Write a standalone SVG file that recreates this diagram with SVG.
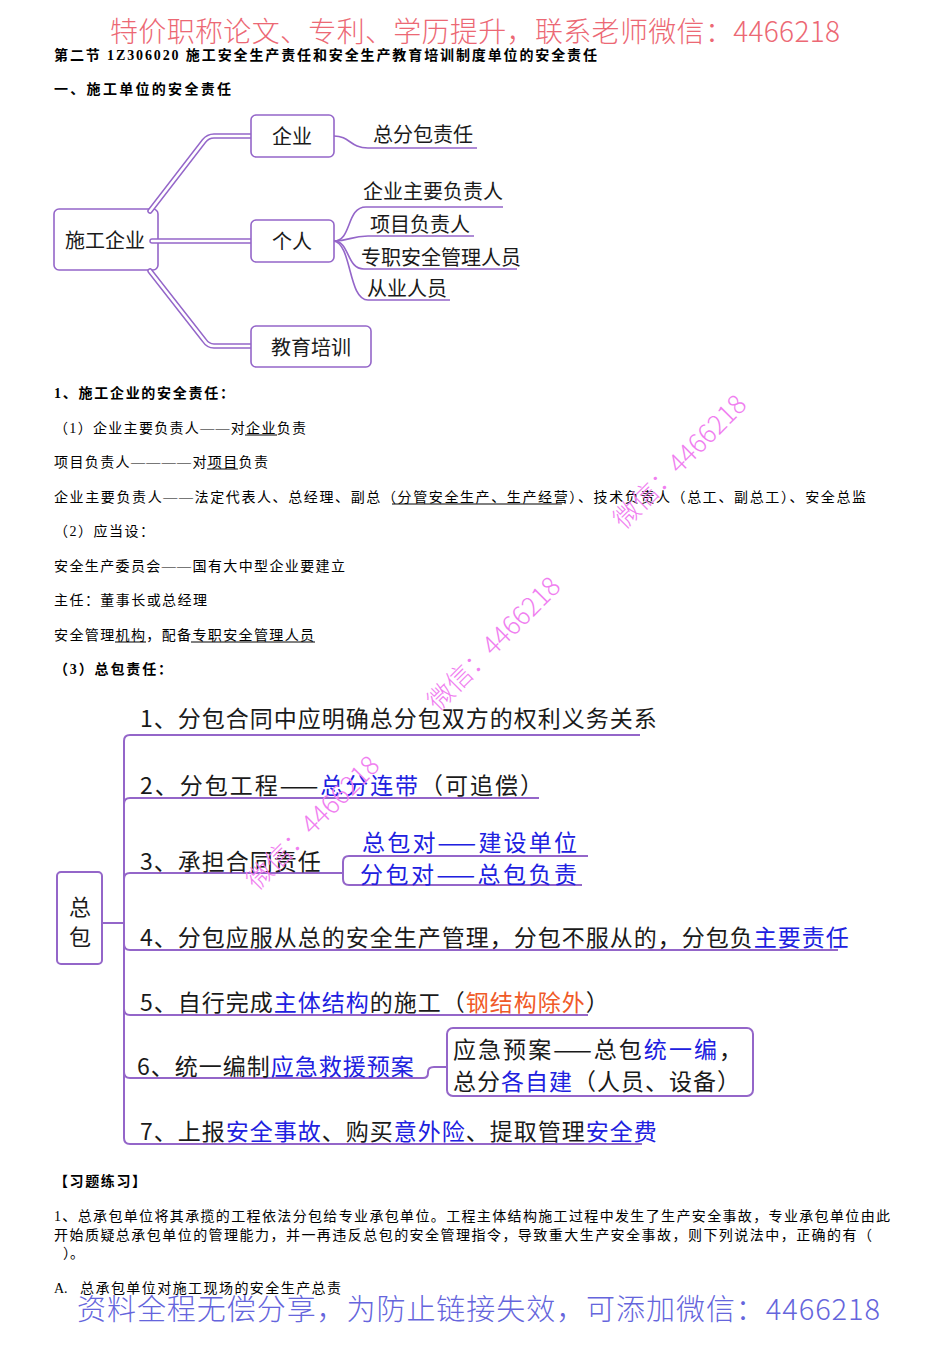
<svg xmlns="http://www.w3.org/2000/svg" width="950" height="1345" viewBox="0 0 950 1345">
<style>
text{dominant-baseline:central}
.wmt{font-family:"Noto Sans CJK SC",sans-serif;font-size:28px;fill:#ec6874;font-weight:300}
.wmb{font-family:"Noto Sans CJK SC",sans-serif;font-size:29px;fill:#6565dc;font-weight:300}
.wm{font-family:"Noto Sans CJK SC",sans-serif;font-size:26px;fill:#f07ef0;font-weight:300}
.b{font-family:"Liberation Serif","Noto Sans CJK SC",serif;font-size:14px;fill:#000}
.bb{font-family:"Liberation Serif","Noto Sans CJK SC",serif;font-size:14px;fill:#000;font-weight:bold}
.m20{font-family:"Noto Sans CJK SC","Noto Sans",sans-serif;font-size:20px;fill:#1a1a1a}
.m23{font-family:"Noto Sans CJK SC","Noto Sans",sans-serif;font-size:23px;fill:#1a1a1a;letter-spacing:1px}
.blue{fill:#2020e0}
.orange{fill:#f05a28}
.box{fill:#fff;stroke:#9466c9;stroke-width:1.6}
.ln{fill:none;stroke:#9466c9;stroke-width:1.6}
.ln2{fill:none;stroke:#9466c9;stroke-width:2}
.to{fill:none;stroke:#9466c9;stroke-width:5.5;stroke-linecap:round;stroke-linejoin:round}
.ti{fill:none;stroke:#fff;stroke-width:2.6;stroke-linecap:round;stroke-linejoin:round}
.ul{stroke:#000;stroke-width:1}
</style>
<rect x="0" y="0" width="950" height="1345" fill="#fff"/>

<!-- header -->
<text class="wmt" x="110" y="30" textLength="730" lengthAdjust="spacing">特价职称论文、专利、学历提升，联系老师微信：4466218</text>
<text class="bb" x="54" y="55" textLength="543" lengthAdjust="spacing">第二节 1Z306020 施工安全生产责任和安全生产教育培训制度单位的安全责任</text>
<text class="bb" x="54" y="89" textLength="177" lengthAdjust="spacing">一、施工单位的安全责任</text>

<!-- mind map 1 -->
<g id="node-sgqy">
<rect class="box" x="54" y="209" width="104" height="61" rx="5"/>
<text class="m20" x="105" y="239" text-anchor="middle">施工企业</text>
</g>
<g id="connectors-1">
<path class="to" d="M150,211 L204,141 Q208,136 214,136 H251"/>
<path class="ti" d="M150,211 L204,141 Q208,136 214,136 H251"/>
<path class="to" d="M152,241 H251"/>
<path class="ti" d="M152,241 H251"/>
<path class="to" d="M150,271 L204,340 Q208,346 214,346 H251"/>
<path class="ti" d="M150,271 L204,340 Q208,346 214,346 H251"/>
<path class="ln" d="M334,136 C350,136 350,148 368,148 H477"/>
<path class="ln" d="M334,241 C352,241 346,207 366,207 H503"/>
<path class="ln" d="M334,241 C350,241 350,236 368,236 H474"/>
<path class="ln" d="M334,241 C350,241 346,269 364,269 H517"/>
<path class="ln" d="M334,241 C352,244 348,300 368,300 H450"/>
</g>
<g id="node-qiye">
<rect class="box" x="251" y="115" width="83" height="42" rx="5"/>
<text class="m20" x="292" y="135" text-anchor="middle">企业</text>
</g>
<g id="node-geren">
<rect class="box" x="251" y="220" width="83" height="42" rx="5"/>
<text class="m20" x="292" y="240" text-anchor="middle">个人</text>
</g>
<g id="node-jypx">
<rect class="box" x="251" y="326" width="120" height="41" rx="5"/>
<text class="m20" x="311" y="346" text-anchor="middle">教育培训</text>
</g>
<g id="node-zfbzr"><text class="m20" x="373" y="133">总分包责任</text></g>
<g id="node-qyzyfzr"><text class="m20" x="363" y="190">企业主要负责人</text></g>
<g id="node-xmfzr"><text class="m20" x="370" y="223">项目负责人</text></g>
<g id="node-zzaq"><text class="m20" x="361" y="256">专职安全管理人员</text></g>
<g id="node-cyry"><text class="m20" x="367" y="287">从业人员</text></g>

<!-- body text -->
<text class="bb" x="54" y="393" textLength="180" lengthAdjust="spacing">1、施工企业的安全责任：</text>
<text class="b" x="54" y="428" textLength="252" lengthAdjust="spacing">（1）企业主要负责人——对企业负责</text>
<line class="ul" x1="245" y1="435" x2="277" y2="435"/>
<text class="b" x="54" y="462" textLength="214" lengthAdjust="spacing">项目负责人————对项目负责</text>
<line class="ul" x1="207" y1="469" x2="238" y2="469"/>
<text class="b" x="54" y="497" textLength="812" lengthAdjust="spacing">企业主要负责人——法定代表人、总经理、副总（分管安全生产、生产经营）、技术负责人（总工、副总工）、安全总监</text>
<line class="ul" x1="392" y1="504" x2="562" y2="504"/>
<text class="b" x="54" y="531" textLength="100" lengthAdjust="spacing">（2）应当设：</text>
<text class="b" x="54" y="566" textLength="291" lengthAdjust="spacing">安全生产委员会——国有大中型企业要建立</text>
<text class="b" x="54" y="600" textLength="153" lengthAdjust="spacing">主任：董事长或总经理</text>
<text class="b" x="54" y="635" textLength="260" lengthAdjust="spacing">安全管理机构，配备专职安全管理人员</text>
<line class="ul" x1="115" y1="642" x2="146" y2="642"/>
<line class="ul" x1="191" y1="642" x2="315" y2="642"/>
<text class="bb" x="54" y="669" textLength="118" lengthAdjust="spacing">（3）总包责任：</text>

<!-- mind map 2 -->
<g id="connectors-2">
<path class="ln2" d="M102,923 H124"/>
<path class="ln2" d="M124,923 V741 Q124,735 130,735 H640"/>
<path class="ln2" d="M124,923 V804 Q124,798 130,798 H539"/>
<path class="ln2" d="M124,923 V879 Q124,873 130,873 H343"/>
<path class="ln2" d="M349,856 H588 M349,856 Q343,856 343,862 V879 Q343,885 349,885 H582"/>
<path class="ln2" d="M124,923 V944 Q124,950 130,950 H838"/>
<path class="ln2" d="M124,923 V1009 Q124,1015 130,1015 H588"/>
<path class="ln2" d="M124,923 V1072 Q124,1078 130,1078 H423 Q428,1078 428,1073 V1072 Q428,1067 434,1067 H447"/>
<path class="ln2" d="M124,923 V1138 Q124,1144 130,1144 H642"/>
</g>
<g id="node-zongbao">
<rect class="box" x="57" y="872" width="45" height="92" rx="4" style="stroke-width:2"/>
<text class="m23" x="80" y="905" text-anchor="middle" style="letter-spacing:0;font-size:22px">总</text>
<text class="m23" x="80" y="935" text-anchor="middle" style="letter-spacing:0;font-size:22px">包</text>
</g>
<g id="node-b1"><text class="m23" x="140" y="717">1、分包合同中应明确总分包双方的权利义务关系</text></g>
<g id="node-b2"><text class="m23" x="140" y="784" textLength="404" lengthAdjust="spacing">2、分包工程——<tspan class="blue">总分连带</tspan>（可追偿）</text></g>
<g id="node-b3"><text class="m23" x="140" y="860">3、承担合同责任</text></g>
<g id="node-b3a"><text class="m23 blue" x="362" y="841" textLength="216" lengthAdjust="spacing">总包对——建设单位</text></g>
<g id="node-b3b"><text class="m23 blue" x="360" y="873" textLength="218" lengthAdjust="spacing">分包对——总包负责</text></g>
<g id="node-b4"><text class="m23" x="140" y="936">4、分包应服从总的安全生产管理，分包不服从的，分包负<tspan class="blue">主要责任</tspan></text></g>
<g id="node-b5"><text class="m23" x="140" y="1001">5、自行完成<tspan class="blue">主体结构</tspan>的施工（<tspan class="orange">钢结构除外</tspan>）</text></g>
<g id="node-b6"><text class="m23" x="137" y="1065">6、统一编制<tspan class="blue">应急救援预案</tspan></text></g>
<g id="node-b6box">
<rect class="box" x="447" y="1028" width="306" height="68" rx="6" style="stroke-width:2"/>
<text class="m23" x="453" y="1048" textLength="290" lengthAdjust="spacing">应急预案——总包<tspan class="blue">统一编</tspan>，</text>
<text class="m23" x="453" y="1080">总分<tspan class="blue">各自建</tspan>（人员、设备）</text>
</g>
<g id="node-b7"><text class="m23" x="140" y="1130">7、上报<tspan class="blue">安全事故</tspan>、购买<tspan class="blue">意外险</tspan>、提取管理<tspan class="blue">安全费</tspan></text></g>

<!-- exercise -->
<text class="bb" x="54" y="1181" textLength="92" lengthAdjust="spacing">【习题练习】</text>
<text class="b" x="54" y="1216" textLength="836" lengthAdjust="spacing">1、总承包单位将其承揽的工程依法分包给专业承包单位。工程主体结构施工过程中发生了生产安全事故，专业承包单位由此</text>
<text class="b" x="54" y="1235" textLength="818" lengthAdjust="spacing">开始质疑总承包单位的管理能力，并一再违反总包的安全管理指令，导致重大生产安全事故，则下列说法中，正确的有（</text>
<text class="b" x="63" y="1253">）。</text>
<text class="b" x="54" y="1288">A.</text>
<text class="b" x="80" y="1288" textLength="261" lengthAdjust="spacing">总承包单位对施工现场的安全生产总责</text>
<text class="wmb" x="77" y="1307" textLength="803" lengthAdjust="spacing">资料全程无偿分享，为防止链接失效，可添加微信：4466218</text>

<!-- diagonal watermarks -->
<text class="wm" x="678" y="460" text-anchor="middle" transform="rotate(-45 678 460)">微信：4466218</text>
<text class="wm" x="492" y="642" text-anchor="middle" transform="rotate(-45 492 642)">微信：4466218</text>
<text class="wm" x="311" y="821" text-anchor="middle" transform="rotate(-45 311 821)">微信：4466218</text>
</svg>
